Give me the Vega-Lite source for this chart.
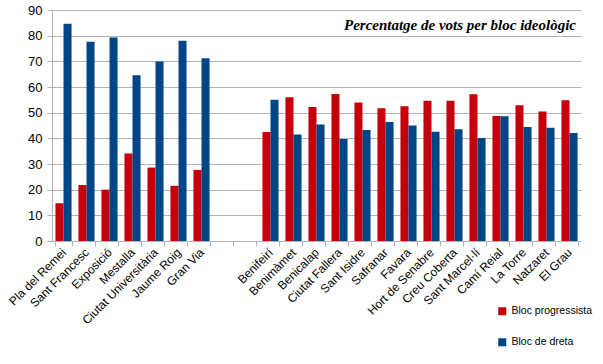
{
  "$schema": "https://vega.github.io/schema/vega-lite/v6.json",
  "width": 529,
  "height": 231,
  "autosize": "none",
  "padding": {"left": 52, "top": 10, "right": 22, "bottom": 123},
  "background": "white",
  "title": {
    "text": "Percentatge de vots per bloc ideològic",
    "anchor": "end",
    "orient": "top",
    "offset": -18,
    "dy": 23,
    "baseline": "alphabetic",
    "dx": -17,
    "font": "Liberation Serif",
    "fontStyle": "italic",
    "fontWeight": "bold",
    "fontSize": 15,
    "color": "#000000"
  },
  "data": {
    "values": [
      {"barri": "Pla del Remei", "bloc": "Bloc progressista", "pct": 14.7},
      {"barri": "Pla del Remei", "bloc": "Bloc de dreta", "pct": 84.6},
      {"barri": "Sant Francesc", "bloc": "Bloc progressista", "pct": 21.8},
      {"barri": "Sant Francesc", "bloc": "Bloc de dreta", "pct": 77.6},
      {"barri": "Exposició", "bloc": "Bloc progressista", "pct": 20.0},
      {"barri": "Exposició", "bloc": "Bloc de dreta", "pct": 79.3},
      {"barri": "Mestalla", "bloc": "Bloc progressista", "pct": 34.1},
      {"barri": "Mestalla", "bloc": "Bloc de dreta", "pct": 64.6},
      {"barri": "Ciutat Universitària", "bloc": "Bloc progressista", "pct": 28.6},
      {"barri": "Ciutat Universitària", "bloc": "Bloc de dreta", "pct": 69.9},
      {"barri": "Jaume Roig", "bloc": "Bloc progressista", "pct": 21.5},
      {"barri": "Jaume Roig", "bloc": "Bloc de dreta", "pct": 78.0},
      {"barri": "Gran Via", "bloc": "Bloc progressista", "pct": 27.7},
      {"barri": "Gran Via", "bloc": "Bloc de dreta", "pct": 71.2},
      {"barri": "Benifeirí", "bloc": "Bloc progressista", "pct": 42.5},
      {"barri": "Benifeirí", "bloc": "Bloc de dreta", "pct": 55.0},
      {"barri": "Benimàmet", "bloc": "Bloc progressista", "pct": 56.0},
      {"barri": "Benimàmet", "bloc": "Bloc de dreta", "pct": 41.5},
      {"barri": "Benicalap", "bloc": "Bloc progressista", "pct": 52.2},
      {"barri": "Benicalap", "bloc": "Bloc de dreta", "pct": 45.4},
      {"barri": "Ciutat Fallera", "bloc": "Bloc progressista", "pct": 57.3},
      {"barri": "Ciutat Fallera", "bloc": "Bloc de dreta", "pct": 39.7},
      {"barri": "Sant Isidre", "bloc": "Bloc progressista", "pct": 54.0},
      {"barri": "Sant Isidre", "bloc": "Bloc de dreta", "pct": 43.2},
      {"barri": "Safranar", "bloc": "Bloc progressista", "pct": 51.7},
      {"barri": "Safranar", "bloc": "Bloc de dreta", "pct": 46.4},
      {"barri": "Favara", "bloc": "Bloc progressista", "pct": 52.5},
      {"barri": "Favara", "bloc": "Bloc de dreta", "pct": 45.0},
      {"barri": "Hort de Senabre", "bloc": "Bloc progressista", "pct": 54.6},
      {"barri": "Hort de Senabre", "bloc": "Bloc de dreta", "pct": 42.6},
      {"barri": "Creu Coberta", "bloc": "Bloc progressista", "pct": 54.6},
      {"barri": "Creu Coberta", "bloc": "Bloc de dreta", "pct": 43.5},
      {"barri": "Sant Marcel·lí", "bloc": "Bloc progressista", "pct": 57.2},
      {"barri": "Sant Marcel·lí", "bloc": "Bloc de dreta", "pct": 40.1},
      {"barri": "Camí Reial", "bloc": "Bloc progressista", "pct": 48.7},
      {"barri": "Camí Reial", "bloc": "Bloc de dreta", "pct": 48.6},
      {"barri": "La Torre", "bloc": "Bloc progressista", "pct": 52.9},
      {"barri": "La Torre", "bloc": "Bloc de dreta", "pct": 44.4},
      {"barri": "Natzaret", "bloc": "Bloc progressista", "pct": 50.5},
      {"barri": "Natzaret", "bloc": "Bloc de dreta", "pct": 44.1},
      {"barri": "El Grau", "bloc": "Bloc progressista", "pct": 54.8},
      {"barri": "El Grau", "bloc": "Bloc de dreta", "pct": 42.1}
    ]
  },
  "mark": {"type": "bar"},
  "encoding": {
    "x": {
      "field": "barri",
      "type": "nominal",
      "sort": null,
      "scale": {
        "domain": ["Pla del Remei", "Sant Francesc", "Exposició", "Mestalla", "Ciutat Universitària", "Jaume Roig", "Gran Via", " ", "  ", "Benifeirí", "Benimàmet", "Benicalap", "Ciutat Fallera", "Sant Isidre", "Safranar", "Favara", "Hort de Senabre", "Creu Coberta", "Sant Marcel·lí", "Camí Reial", "La Torre", "Natzaret", "El Grau"],
        "paddingInner": 0.3,
        "paddingOuter": 0.15
      },
      "axis": {
        "title": null,
        "tickBand": "extent",
        "grid": false,
        "ticks": true,
        "tickSize": 5,
        "tickColor": "#b3b3b3",
        "domainColor": "#b3b3b3",
        "labelAngle": -45,
        "labelAlign": "right",
        "labelBaseline": "middle",
        "labelFont": "Liberation Sans",
        "labelFontSize": 12,
        "labelColor": "#000000",
        "labelPadding": 4
      }
    },
    "xOffset": {
      "field": "bloc",
      "type": "nominal",
      "scale": {"domain": ["Bloc progressista", "Bloc de dreta"], "paddingInner": 0}
    },
    "y": {
      "field": "pct",
      "type": "quantitative",
      "scale": {"domain": [0, 90], "nice": false},
      "axis": {
        "title": null,
        "values": [0, 10, 20, 30, 40, 50, 60, 70, 80, 90],
        "grid": true,
        "gridColor": "#b3b3b3",
        "tickColor": "#b3b3b3",
        "domainColor": "#b3b3b3",
        "tickSize": 5,
        "labelPadding": 5,
        "labelFont": "Liberation Sans",
        "labelFontSize": 13,
        "labelColor": "#000000"
      }
    },
    "color": {
      "field": "bloc",
      "type": "nominal",
      "scale": {"domain": ["Bloc progressista", "Bloc de dreta"], "range": ["#c5000b", "#004586"]},
      "legend": {
        "title": null,
        "orient": "none",
        "legendX": 445,
        "legendY": 296,
        "symbolType": "square",
        "symbolSize": 64,
        "symbolStrokeWidth": 0,
        "labelFont": "Liberation Sans",
        "labelFontSize": 10.5,
        "labelColor": "#000000",
        "rowPadding": 20,
        "labelOffset": 4
      }
    }
  },
  "config": {"view": {"stroke": null}}
}
